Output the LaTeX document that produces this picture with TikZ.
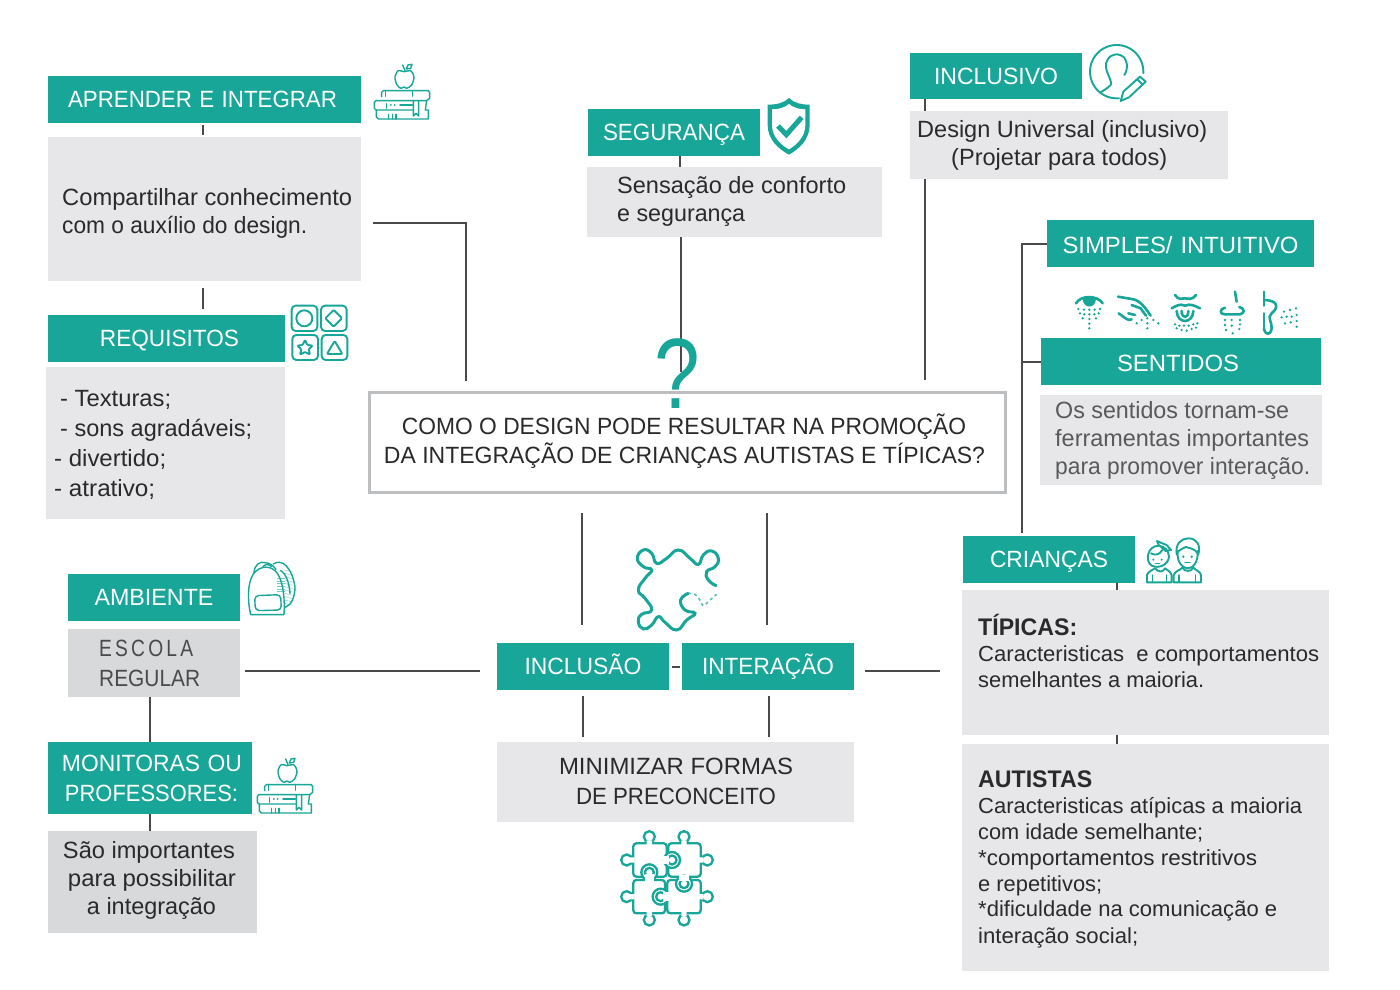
\documentclass[tikz,border=0pt]{standalone}
\usepackage{fontspec}
\setmainfont{Liberation Sans}
\usetikzlibrary{calc}
\definecolor{tealc}{HTML}{17A697}
\definecolor{greyl}{HTML}{E7E7E9}
\definecolor{greyd}{HTML}{D8D9DA}
\definecolor{frameg}{HTML}{BDBEC0}
\definecolor{linec}{HTML}{4A4A4C}
\definecolor{inkc}{HTML}{2A2A2C}
\definecolor{inkl}{HTML}{58595B}
\tikzset{
  tealplain/.style={fill=tealc,text=white,inner sep=0pt,align=center,font=\fontsize{23.5}{30}\selectfont},
  tealbox/.style={tealplain,text height=19pt,text depth=4pt},
  teallow/.style={tealplain,text height=22pt,text depth=3pt},
  tealmid/.style={tealplain,text height=20pt,text depth=3pt},
  lightbox/.style={fill=greyl,inner sep=0pt},
  darkbox/.style={fill=greyd,inner sep=0pt},
  conn/.style={draw=linec,line width=2pt},
  bodytext/.style={text=inkc,inner sep=0pt,anchor=base west,font=\fontsize{23.5}{28}\selectfont},
  ctext/.style={text=inkc,inner sep=0pt,anchor=base,font=\fontsize{23.5}{28}\selectfont},
  smalltext/.style={bodytext,font=\fontsize{21.8}{26}\selectfont},
  boldtext/.style={bodytext,font=\fontsize{24}{28}\selectfont\bfseries},
  ico/.style={draw=tealc,line width=1.9pt,line cap=round,line join=round},
  icosense/.style={draw=tealc,line width=2.6pt,line cap=round,line join=round},
  icothin/.style={draw=tealc,line width=1.4pt,line cap=round,line join=round},
  zoomed/.style={shift={#1},x=0.3333pt,y=-0.3333pt},
}
\newcommand{\fit}[2]{\resizebox{#1pt}{\height}{#2}}
% \bx{name}{x1}{y1}{x2}{y2}{style}{text}
\newcommand{\bx}[7]{%
  \pgfmathsetmacro{\bw}{#4-#2}\pgfmathsetmacro{\bh}{#5-#3}%
  \node[#6,minimum width=\bw pt,minimum height=\bh pt,text width=\bw pt] (#1) at ({(#2+#4)/2},{(#3+#5)/2}) {#7};}
\newcommand{\booksicon}[1]{%
\begin{scope}[zoomed={#1}]
  \draw[icothin] plot[smooth cycle] coordinates {(373,50)(392,47)(402,65)(395,90)(380,100)(372,96)(362,100)(350,88)(345,65)(355,47)};
  \draw[icothin] (375,47) -- (368,30);
  \draw[icothin] (379,42) -- (384,30) -- (396,28) -- (392,40) -- cycle;
  \draw[icothin] (305,125) -- (305,112) -- (310,107) -- (445,107) -- (449,112) -- (449,130) -- (440,137) -- (288,137) -- (283,142) -- (283,160) -- (288,165) -- (398,165);
  \draw[icothin] (317,107) -- (317,124) (397,107) -- (397,124);
  \draw[icothin] (400,137) -- (400,183) -- (408,175) -- (416,183) -- (416,137);
  \draw[icothin] (440,137) -- (436,165) -- (445,165) -- (445,192) -- (295,192) -- (289,186) -- (289,165);
  \draw[icothin] (325,178) -- (325,192) (337,178) -- (337,192) (348,178) -- (348,192);
  \draw[icothin] (319,146) -- (319,160) (360,150) -- (397,150);
  \fill[tealc] (333,150) circle (1pt) (344,150) circle (1pt);
\end{scope}}
\begin{document}
\begin{tikzpicture}[x=1pt,y=-1pt]
\useasboundingbox (0,0) rectangle (1400,990);
\fill[white] (0,0) rectangle (1400,990);

% ---------- boxes
\bx{aprender}{48}{76}{361}{123}{tealbox}{\hspace*{-4pt}\fit{269}{APRENDER E INTEGRAR}}
\bx{compart}{48}{137}{361}{281}{lightbox}{}
\bx{requisitos}{48}{315}{285}{362}{tealbox}{\hspace*{6pt}\fit{139}{REQUISITOS}}
\bx{texturas}{46}{367}{285}{519}{lightbox}{}
\bx{seguranca}{588}{109}{760}{156}{tealbox}{\fit{142}{SEGURANÇA}}
\bx{conforto}{587}{167}{882}{237}{lightbox}{}
\bx{inclusivo}{910}{53}{1082}{99}{tealmid}{\fit{124}{INCLUSIVO}}
\bx{universal}{910}{111}{1228}{179}{lightbox}{}
\bx{simples}{1047}{220}{1314}{267}{teallow}{\fit{236}{SIMPLES/ INTUITIVO}}
\bx{sentidos}{1041}{338}{1321}{385}{teallow}{\hspace*{-6pt}\fit{122}{SENTIDOS}}
\bx{ferram}{1040}{395}{1322}{485}{lightbox}{}
\bx{criancas}{963}{536}{1135}{583}{tealbox}{\fit{118}{CRIANÇAS}}
\bx{tipicas}{962}{590}{1329}{735}{lightbox}{}
\bx{autistas}{962}{744}{1329}{971}{lightbox}{}
\bx{inclusao}{497}{643}{669}{690}{tealbox}{\fit{117}{INCLUSÃO}}
\bx{interacao}{682}{643}{854}{690}{tealbox}{\fit{132}{INTERAÇÃO}}
\bx{minimizar}{497}{742}{854}{822}{lightbox}{}
\bx{ambiente}{68}{574}{240}{621}{tealbox}{\fit{119}{AMBIENTE}}
\bx{escola}{68}{629}{240}{697}{darkbox}{}
\bx{monitoras}{48}{742}{252}{814}{tealplain}{\hspace*{4pt}\fit{180}{MONITORAS OU}\\\hspace*{3pt}\fit{173}{PROFESSORES:}}
\bx{saoimp}{48}{831}{257}{933}{darkbox}{}
\node[draw=frameg,line width=3pt,fill=white,minimum width=636pt,minimum height=100pt,inner sep=0pt] (centro) at (687.5,442.5) {};

% ---------- connectors
\coordinate (apA) at (373,222.5);
\coordinate (apB) at (466,222.5);
\coordinate (apC) at (466,381);
\draw[conn] (apA) -- (apB) -- (apC);
\draw[conn,shorten <=2pt,shorten >=2pt] ([xshift=-1.5pt]aprender.south) -- ([xshift=-1.5pt]compart.north);
\draw[conn,shorten <=7pt,shorten >=6pt] ([xshift=-1.5pt]compart.south) -- ([xshift=-1.5pt]compart.south |- requisitos.north);
\draw[conn] ([xshift=6pt]seguranca.south) -- ([xshift=6pt]seguranca.south |- conforto.north);
\coordinate (segEnd) at (680.5,372);
\draw[conn] (conforto.south -| segEnd) -- (segEnd);
\coordinate (incEnd) at (924.5,380);
\draw[conn] (inclusivo.south -| incEnd) -- (universal.north -| incEnd);
\draw[conn] (universal.south -| incEnd) -- (incEnd);
\coordinate (trunkTop) at (1022,243.5);
\coordinate (trunkBot) at (1022,533);
\draw[conn] (simples.west |- trunkTop) -- (trunkTop) -- (trunkBot);
\coordinate (trunkMid) at (1022,361.5);
\draw[conn] (trunkMid) -- (sentidos.west |- trunkMid);
\coordinate (crX) at (1117,560);
\draw[conn] (criancas.south -| crX) -- (tipicas.north -| crX);
\draw[conn] (tipicas.south -| crX) -- (autistas.north -| crX);
\coordinate (inA) at (581.5,513);
\coordinate (inB) at (581.5,625);
\coordinate (itA) at (767,513);
\coordinate (itB) at (767,625);
\draw[conn] (inA) -- (inB);
\draw[conn] (itA) -- (itB);
\coordinate (midY) at (676,667);
\draw[conn,shorten <=3pt,shorten >=2pt] (inclusao.east |- midY) -- (interacao.west |- midY);
\coordinate (rA) at (865,671);
\coordinate (rB) at (940,671);
\draw[conn] (rA) -- (rB);
\coordinate (lA) at (245,671);
\coordinate (lB) at (480,671);
\draw[conn] (lA) -- (lB);
\coordinate (inC) at (583,696);
\coordinate (inD) at (583,737);
\coordinate (itC) at (768.5,696);
\coordinate (itD) at (768.5,737);
\draw[conn] (inC) -- (inD);
\draw[conn] (itC) -- (itD);
\coordinate (leftX) at (150,700);
\draw[conn] (escola.south -| leftX) -- (monitoras.north -| leftX);
\draw[conn] (monitoras.south -| leftX) -- (saoimp.north -| leftX);

% ---------- texts
\node[bodytext] (t1a) at (62,205) {\fit{290}{Compartilhar conhecimento}};
\node[bodytext] (t1b) at (62,233) {\fit{245}{com o auxílio do design.}};
\node[bodytext] (t2a) at (60,406) {\fit{111}{- Texturas;}};
\node[bodytext] (t2b) at (60,436) {\fit{192}{- sons agradáveis;}};
\node[bodytext] (t2c) at (54,466) {\fit{112}{- divertido;}};
\node[bodytext] (t2d) at (54,496) {\fit{101}{- atrativo;}};
\node[bodytext] (t3a) at (617,193) {\fit{229}{Sensação de conforto}};
\node[bodytext] (t3b) at (617,221) {\fit{128}{e segurança}};
\node[bodytext] (t4a) at (917,137) {\fit{290}{Design Universal (inclusivo)}};
\node[bodytext] (t4b) at (951,165) {\fit{216}{(Projetar para todos)}};
\node[bodytext,text=inkl] (t5a) at (1055,418) {\fit{234}{Os sentidos tornam-se}};
\node[bodytext,text=inkl] (t5b) at (1055,446) {\fit{254}{ferramentas importantes}};
\node[bodytext,text=inkl] (t5c) at (1055,474) {\fit{255}{para promover interação.}};
\node[ctext] (c1) at (684,434) {\fit{564}{COMO O DESIGN PODE RESULTAR NA PROMOÇÃO}};
\node[ctext] (c2) at (684.5,463) {\fit{601}{DA INTEGRAÇÃO DE CRIANÇAS AUTISTAS E TÍPICAS?}};
\node[ctext] (m1) at (676,774) {\fit{234}{MINIMIZAR FORMAS}};
\node[ctext] (m2) at (676,804) {\fit{200}{DE PRECONCEITO}};
\node[bodytext,text=inkc!85] (e1) at (99,656) {\fit{94}{E\,S\,C\,O\,L\,A}};
\node[bodytext,text=inkc!85] (e2) at (99,686) {\fit{101}{REGULAR}};
\node[ctext] (s1) at (149,858) {\fit{172}{São importantes}};
\node[ctext] (s2) at (152,886) {\fit{168}{para possibilitar}};
\node[ctext] (s3) at (151.5,914) {\fit{129}{a integração}};
\node[boldtext] (tp0) at (978,635) {\fit{99}{TÍPICAS:}};
\node[smalltext] (tp1) at (978,661) {\fit{341}{Caracteristicas\ \ e comportamentos}};
\node[smalltext] (tp2) at (978,687) {\fit{226}{semelhantes a maioria.}};
\node[boldtext] (au0) at (978,787) {\fit{114}{AUTISTAS}};
\node[smalltext] (au1) at (978,813) {\fit{324}{Caracteristicas atípicas a maioria}};
\node[smalltext] (au2) at (978,839) {\fit{225}{com idade semelhante;}};
\node[smalltext] (au3) at (978,865) {\fit{279}{*comportamentos restritivos}};
\node[smalltext] (au4) at (978,891) {\fit{124}{e repetitivos;}};
\node[smalltext] (au5) at (978,916) {\fit{299}{*dificuldade na comunicação e}};
\node[smalltext] (au6) at (978,943) {\fit{160}{interação social;}};
\node[text=tealc,inner sep=0pt,anchor=base,xscale=0.82,font=\fontsize{100}{100}\selectfont] (qm) at (677,408) {?};

% ---------- icons
\booksicon{(280,55)}
\booksicon{(163,749)}
% shapes
\begin{scope}[zoomed={(280,55)}]
  \draw[ico,rounded corners=4pt] (35,752) rectangle (112,828);
  \draw[ico,rounded corners=4pt] (123,752) rectangle (200,828);
  \draw[ico,rounded corners=4pt] (37,840) rectangle (114,915);
  \draw[ico,rounded corners=4pt] (125,840) rectangle (202,915);
  \draw[ico] (73,790) circle (8pt);
  \draw[ico,rounded corners=1pt] (161,765) -- (186,790) -- (161,815) -- (136,790) -- cycle;
  \draw[ico,rounded corners=1pt] (75,855) -- (82,870) -- (98,872) -- (86,883) -- (90,899) -- (75,891) -- (60,899) -- (64,883) -- (52,872) -- (68,870) -- cycle;
  \draw[ico,rounded corners=1pt] (164,858) -- (187,897) -- (141,897) -- cycle;
\end{scope}
% shield
\begin{scope}[zoomed={(755,90)}]
  \fill[tealc] (102,24) .. controls (118,40) and (140,44) .. (164,44) -- (164,105) .. controls (164,150) and (130,178) .. (102,194) .. controls (72,178) and (38,150) .. (38,105) -- (38,44) .. controls (62,44) and (86,40) .. (102,24) -- cycle;
  \fill[white] (102,42) .. controls (116,54) and (134,58) .. (151,58) -- (151,105) .. controls (151,140) and (124,165) .. (102,178) .. controls (78,165) and (51,140) .. (51,105) -- (51,58) .. controls (68,58) and (88,54) .. (102,42) -- cycle;
  \draw[tealc,line width=5pt,line cap=butt,line join=miter] (69,108) -- (94,134) -- (140,82);
\end{scope}
% person
\begin{scope}[zoomed={(1080,40)}]
  \draw[ico] plot[domain=85:363,samples=60] ({110+80*cos(\x)},{95+80*sin(\x)});
  \draw[ico] plot[smooth] coordinates {(60,158)(92,135)(88,112)(80,92)(78,70)(90,50)(112,43)(132,52)(141,75)(138,95)(133,105)};
  \draw[ico] (130,155) -- (180,110) -- (197,125) -- (147,172) -- (122,183) -- cycle;
  \draw[ico] (172,118) -- (188,134);
\end{scope}
% senses
\begin{scope}[zoomed={(1060,285)}]
  \draw[icosense] (48,55) .. controls (62,30) and (112,30) .. (128,55);
  \fill[tealc] (68,42) .. controls (70,72) and (106,72) .. (108,42) .. controls (95,36) and (80,36) .. (68,42) -- cycle;
  \foreach \p in {(55,72),(72,74),(88,74),(104,74),(120,72),(60,85),(73,88),(88,88),(103,88),(116,85),(68,100),(88,102),(108,100),(88,116),(88,130)}
    \fill[tealc] \p circle (1.3pt);
  \draw[icosense] (174,35) -- (215,42) .. controls (240,44) and (258,72) .. (272,92);
  \draw[icosense] (215,60) -- (242,70) -- (258,92);
  \draw[icosense] (176,85) .. controls (195,98) and (205,110) .. (215,103) (205,85) -- (225,90);
  \foreach \p in {(262,100),(280,105),(295,115),(262,115),(262,130),(245,105),(230,115)}
    \fill[tealc] \p circle (1.3pt);
  \draw[icosense] (345,30) .. controls (355,45) and (365,42) .. (375,40) .. controls (385,42) and (398,45) .. (408,30);
  \draw[icosense] (335,70) .. controls (350,62) and (360,55) .. (375,62) .. controls (390,55) and (405,62) .. (420,70);
  \draw[icosense] (350,78) .. controls (352,118) and (398,118) .. (400,78);
  \draw[icosense] (365,78) .. controls (365,102) and (385,102) .. (385,78);
  \foreach \p in {(345,118),(358,122),(372,122),(386,122),(400,118),(412,115),(350,130),(365,135),(380,137),(395,132),(408,128)}
    \fill[tealc] \p circle (1.3pt);
  \draw[icosense] (525,20) -- (530,50);
  \draw[icosense] (495,68) .. controls (478,72) and (478,88) .. (495,88) -- (540,88) .. controls (555,85) and (555,70) .. (538,66);
  \foreach \p in {(495,105),(515,105),(540,105),(495,120),(515,122),(540,118),(498,135),(518,145),(538,132)}
    \fill[tealc] \p circle (1.3pt);
  \draw[icosense] (612,20) -- (612,62) (612,85) -- (612,130);
  \draw[icosense] (612,45) .. controls (650,45) and (660,65) .. (635,85) .. controls (620,97) and (637,112) .. (635,130) .. controls (632,152) and (615,152) .. (612,130);
  \foreach \p in {(672,80),(690,75),(708,70),(665,97),(680,95),(695,95),(710,90),(675,115),(692,112),(710,125),(710,108)}
    \fill[tealc] \p circle (1.3pt);
\end{scope}
% backpack
\begin{scope}[zoomed={(240,550)}]
  \foreach \y in {85,93,...,130} \draw[tealc!60,line width=0.6pt] (112,\y) -- (136,\y);
  \foreach \y in {60,70,...,160} \draw[tealc!45,line width=0.6pt] (134,\y) -- (158,\y+6);
  \draw[icothin] (32,194) .. controls (22,150) and (22,100) .. (40,72) .. controls (60,45) and (95,45) .. (112,70) .. controls (130,95) and (135,150) .. (132,194) -- cycle;
  \draw[icothin,rounded corners=4pt] (44,137) -- (122,134) -- (124,180) -- (46,182) -- cycle;
  \draw[icothin] (42,70) .. controls (42,45) and (60,32) .. (75,38) .. controls (90,38) and (100,48) .. (108,58);
  \draw[icothin] (68,52) .. controls (75,40) and (88,42) .. (94,50);
  \draw[icothin] (100,42) .. controls (125,25) and (155,50) .. (165,110) .. controls (165,140) and (155,165) .. (136,172);
  \draw[icothin] (122,62) .. controls (138,70) and (148,100) .. (150,130);
\end{scope}
% children
\begin{scope}[zoomed={(1135,525)}]
  \draw[ico] (72,62) .. controls (35,62) and (30,110) .. (50,122) .. controls (70,132) and (100,120) .. (102,95) .. controls (100,75) and (90,65) .. (72,62);
  \draw[ico] (72,62) -- (66,48) -- (82,55) -- (95,60) -- (108,75) -- (92,78) -- (78,66);
  \draw[ico] (48,85) .. controls (62,92) and (72,90) .. (82,75);
  \draw[ico] (36,172) -- (36,150) .. controls (40,138) and (55,134) .. (60,130) .. controls (72,145) and (85,140) .. (90,130) .. controls (98,136) and (108,140) .. (110,152) -- (110,172) -- (36,172);
  \draw[icothin] (52,172) -- (52,150) (95,172) -- (95,150);
  \draw[ico] (125,88) .. controls (120,55) and (140,40) .. (160,40) .. controls (185,40) and (198,60) .. (190,88) .. controls (180,70) and (165,70) .. (152,66) .. controls (145,72) and (135,72) .. (128,80) -- (125,88);
  \draw[ico] (128,80) .. controls (125,115) and (145,130) .. (158,130) .. controls (175,130) and (190,110) .. (188,78);
  \draw[ico] (116,172) -- (116,150) .. controls (120,138) and (135,136) .. (142,128) .. controls (148,140) and (168,142) .. (175,128) .. controls (183,136) and (196,140) .. (198,150) -- (198,172) -- (116,172);
  \draw[icothin] (132,172) -- (132,150) (182,172) -- (182,150);
  \fill[tealc] (145,95) circle (1.3pt) (170,95) circle (1.3pt) (55,104) circle (1.1pt) (80,104) circle (1.1pt);
  \draw[icothin] (150,112) -- (165,112) (62,116) -- (74,116);
\end{scope}
% big puzzle piece
\begin{scope}[zoomed={(610,535)}]
  \draw[tealc,line width=3pt,line cap=round] plot[smooth,tension=0.85] coordinates {(318,152)(295,135)(290,110)(315,95)(325,70)(305,48)(280,60)(265,88)(240,70)(205,45)(170,70)(140,85)(125,55)(100,45)(82,70)(100,95)(125,105)(105,130)(85,165)(105,190)(125,225)(95,238)(85,260)(100,282)(125,270)(145,245)(165,262)(200,285)(230,255)(255,235)(225,225)(212,195)(235,175)};
  \draw[tealc!70,line width=1.6pt,dashed] plot[smooth] coordinates {(235,175)(255,178)(270,195)(280,212)(300,195)(320,178)};
\end{scope}
% four-piece puzzle
\begin{scope}[zoomed={(610,825)}]
  \tikzset{pz/.style={draw=tealc,line width=2.3pt,fill=white}}
  \foreach \a/\b/\c/\d in {70/55/170/155,175/55/272/155,70/165/165/265,172/165/272/265}
    \draw[pz,rounded corners=3pt] (\a,\b) rectangle (\c,\d);
  % outward knobs
  \foreach \p in {(118,35),(222,35),(50,105),(292,105),(50,215),(292,215),(118,285),(222,285)}
    \draw[pz] \p circle (5.5pt);
  \fill[white] (110,46) rectangle (126,60) (214,46) rectangle (230,60);
  \fill[white] (60,97) rectangle (74,113) (267,97) rectangle (281,113);
  \fill[white] (60,207) rectangle (74,223) (267,207) rectangle (281,223);
  \fill[white] (110,260) rectangle (126,274) (214,260) rectangle (230,274);
  % interlocking knobs
  \draw[pz] (186,105) circle (8pt);
  \draw[pz] (186,105) circle (4.5pt);
  \fill[white] (160,92) rectangle (178,118);
  \draw[pz] (118,142) circle (8pt);
  \draw[pz] (118,142) circle (4.5pt);
  \fill[white] (104,148) rectangle (132,172);
  \draw[pz] (222,176) circle (8pt);
  \draw[pz] (222,176) circle (4.5pt);
  \fill[white] (208,150) rectangle (236,168);
  \draw[pz] (152,215) circle (8pt);
  \draw[pz] (152,215) circle (4.5pt);
  \fill[white] (160,202) rectangle (180,228);
\end{scope}
\end{tikzpicture}
\end{document}
